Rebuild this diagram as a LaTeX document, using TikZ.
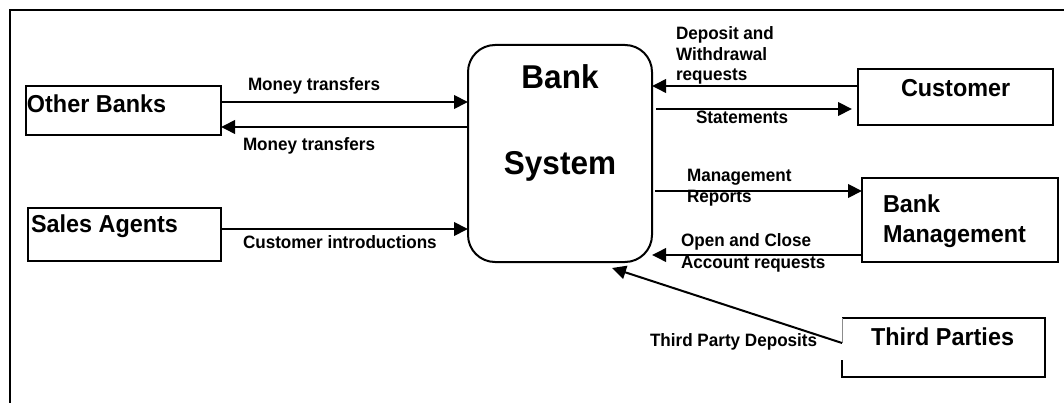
\documentclass[tikz,border=0pt]{standalone}
\usepackage{fontspec}
\setmainfont{Liberation Sans}[FakeStretch=0.955]
\usetikzlibrary{arrows.meta,calc}
\begin{document}
\begin{tikzpicture}[x=1pt,y=-1pt,
  every node/.style={inner sep=0pt, outer sep=0pt},
  ent/.style={draw, line width=2pt, rectangle},
  sys/.style={draw, line width=2pt, rectangle, rounded corners=27pt},
  title/.style={font=\bfseries\fontsize{24.5}{29}\selectfont, anchor=base west},
  systitle/.style={font=\bfseries\fontsize{33}{38}\selectfont, anchor=base},
  flow/.style={font=\bfseries\fontsize{17.9}{21}\selectfont, anchor=base west},
  conn/.style={line width=2pt, -{Triangle[length=14pt,width=13.5pt]}}
]
\useasboundingbox (0,0) rectangle (1064,403);

% outer frame (left and top edges)
\draw[line width=2pt] (10,403) -- (10,10) -- (1064,10);

% external entities and the central process
\node[ent, minimum width=195pt, minimum height=49pt] (ob) at (123.5,110.5) {};
\node[ent, minimum width=193pt, minimum height=53pt] (sa) at (124.5,234.5) {};
\node[sys, minimum width=184pt, minimum height=217pt] (bs) at (560,153.5) {};
\node[ent, minimum width=195pt, minimum height=56pt] (cu) at (955.5,97) {};
\node[ent, minimum width=196pt, minimum height=84pt] (bm) at (960,220) {};
\node[minimum width=203pt, minimum height=59pt] (tp) at (943.5,347.5) {};

% Third Parties border, left edge broken where the flow enters
\draw[line width=2pt] ($(tp.south west)+(0,-17)$) -- (tp.south west) -- (tp.south east)
  -- (tp.north east) -- (tp.north west);
\draw[line width=0.8pt, black!45] (tp.north west) -- (tp.west |- 0,343);

% entity titles
\node[title] (obt) at (27,113) {Other Banks};
\node[title] (sat) at (31,233) {Sales Agents};
\node[title] (cut) at (901,97) {Customer};
\node[title] (bmt1) at (883,213) {Bank};
\node[title] (bmt2) at (883,243) {Management};
\node[title] (tpt) at (871,345) {Third Parties};
\node[systitle] (bst1) at (560,89) {Bank};
\node[systitle] (bst2) at (560,175) {System};

% data flows
\draw[conn] (ob.east |- 0,102) -- (bs.west |- 0,102);
\draw[conn] (bs.west |- 0,127) -- (ob.east |- 0,127);
\draw[conn] (sa.east |- 0,229) -- (bs.west |- 0,229);
\draw[conn] (cu.west |- 0,86) -- (bs.east |- 0,86);
\draw[conn] ($(bs.east |- 0,109)+(4,0)$) -- ($(cu.west |- 0,109)+(-6,0)$);
\draw[conn] ($(bs.east |- 0,191)+(3,0)$) -- (bm.west |- 0,191);
\draw[conn] (bm.west |- 0,255) -- (bs.east |- 0,255);
\coordinate (tpd) at ($(bs.south)+(52,6)$);
\draw[conn] (tp.west |- 0,343) -- (tpd);

% flow labels
\node[flow] (l1) at (248,90.5) {Money transfers};
\node[flow] (l2) at (243,151) {Money transfers};
\node[flow] (l3) at (243,248) {Customer introductions};
\node[flow] (l4a) at (676,40) {Deposit and};
\node[flow] (l4b) at (676,61) {Withdrawal};
\node[flow] (l4c) at (676,81) {requests};
\node[flow] (l5) at (696,124) {Statements};
\node[flow] (l6a) at (687,182) {Management};
\node[flow] (l6b) at (687,203) {Reports};
\node[flow] (l7a) at (681,247) {Open and Close};
\node[flow] (l7b) at (681,268) {Account requests};
\node[flow] (l8) at (650,346) {Third Party Deposits};
\end{tikzpicture}
\end{document}
